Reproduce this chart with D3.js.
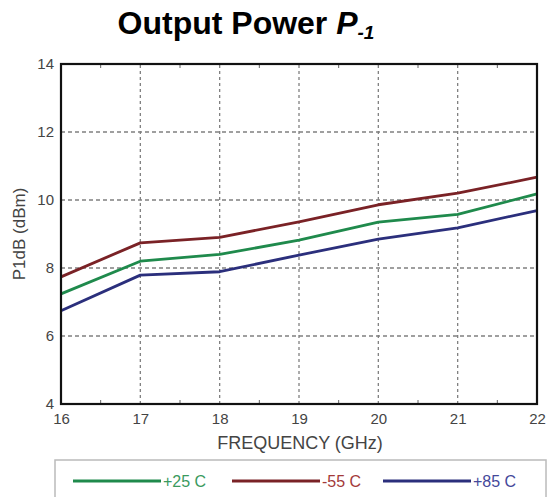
<!DOCTYPE html>
<html>
<head>
<meta charset="utf-8">
<script src="https://cdn.jsdelivr.net/npm/d3@7"></script>
<style>
  body { margin: 0; background: #fff; }
  svg { display: block; font-family: "Liberation Sans", Arial, sans-serif; }
</style>
</head>
<body>
<div id="chart"></div>
<script>
const freq = [16, 17, 18, 19, 20, 21, 22];
const p25 = [7.24, 8.2, 8.4, 8.82, 9.35, 9.58, 10.18];
const m55 = [7.74, 8.74, 8.9, 9.36, 9.86, 10.2, 10.67];
const p85 = [6.74, 7.79, 7.89, 8.38, 8.85, 9.18, 9.69];
const yTicks = [4, 6, 8, 10, 12, 14];
const seriesNames = ["+25 C", "-55 C", "+85 C"];
const seriesColors = ["#1f8a4c", "#7a2226", "#2b2f7c"];
const textColors = ["#3a9a5e", "#a33a3a", "#44489a"];

const series = [p25, m55, p85].map((vals, i) => ({
  name: seriesNames[i],
  color: seriesColors[i],
  values: vals.map((v, j) => ({f: freq[j], v}))
}));

const width = 548, height = 497;
const margin = {top: 64, right: 11, bottom: 93, left: 61};

const x = d3.scaleLinear([16, 22], [margin.left, width - margin.right]);
const y = d3.scaleLinear([4, 14], [height - margin.bottom, margin.top]);

const svg = d3.select("#chart").append("svg")
  .attr("width", width)
  .attr("height", height)
  .attr("viewBox", [0, 0, width, height]);

// title
const title = svg.append("text")
  .attr("x", 246)
  .attr("y", 34)
  .attr("text-anchor", "middle")
  .attr("font-weight", "bold")
  .attr("font-size", 32)
  .attr("fill", "#000");
title.append("tspan").text("Output Power ");
title.append("tspan").attr("font-style", "italic").text("P");
title.append("tspan").attr("font-style", "italic").attr("font-size", 19).attr("dy", 5).text("-1");

// grid
svg.append("g")
  .selectAll("line")
  .data(freq.slice(1, -1))
  .join("line")
  .attr("x1", d => x(d)).attr("x2", d => x(d))
  .attr("y1", y(4)).attr("y2", y(14))
  .attr("stroke", "#808080")
  .attr("stroke-width", 1.3)
  .attr("stroke-dasharray", "3,3");

svg.append("g")
  .selectAll("line")
  .data(yTicks.slice(1, -1))
  .join("line")
  .attr("x1", x(16)).attr("x2", x(22))
  .attr("y1", d => y(d)).attr("y2", d => y(d))
  .attr("stroke", "#808080")
  .attr("stroke-width", 1.3)
  .attr("stroke-dasharray", "4,3");

// minor ticks on the frame
const minor = d3.range(16.5, 22, 1);
svg.append("g")
  .selectAll("line")
  .data(minor.flatMap(d => [[d, 14, 4], [d, 4, -4]]))
  .join("line")
  .attr("x1", d => x(d[0])).attr("x2", d => x(d[0]))
  .attr("y1", d => y(d[1])).attr("y2", d => y(d[1]) + d[2])
  .attr("stroke", "#666")
  .attr("stroke-width", 1);

// lines
const line = d3.line().x(d => x(d.f)).y(d => y(d.v));
svg.append("g")
  .selectAll("path")
  .data(series)
  .join("path")
  .attr("fill", "none")
  .attr("stroke", d => d.color)
  .attr("stroke-width", 2.8)
  .attr("stroke-linejoin", "round")
  .attr("d", d => line(d.values));

// frame
svg.append("rect")
  .attr("x", x(16)).attr("y", y(14))
  .attr("width", x(22) - x(16)).attr("height", y(4) - y(14))
  .attr("fill", "none")
  .attr("stroke", "#111")
  .attr("stroke-width", 2.2);

// x tick labels
svg.append("g")
  .attr("transform", `translate(0,${y(4)})`)
  .call(d3.axisBottom(x).tickValues(freq).tickFormat(d3.format("d")).tickSize(0).tickPadding(9))
  .call(g => g.select(".domain").remove())
  .call(g => g.selectAll("text")
    .attr("font-size", 15)
    .attr("font-family", "Liberation Sans, Arial, sans-serif")
    .attr("fill", "#444"));

// y tick labels
svg.append("g")
  .attr("transform", `translate(${x(16)},0)`)
  .call(d3.axisLeft(y).tickValues(yTicks).tickFormat(d3.format("d")).tickSize(0).tickPadding(7))
  .call(g => g.select(".domain").remove())
  .call(g => g.selectAll("text")
    .attr("font-size", 15)
    .attr("font-family", "Liberation Sans, Arial, sans-serif")
    .attr("fill", "#444"));

// axis titles
svg.append("text")
  .attr("x", 300)
  .attr("y", 449)
  .attr("text-anchor", "middle")
  .attr("font-size", 18)
  .attr("fill", "#444")
  .text("FREQUENCY (GHz)");

svg.append("text")
  .attr("transform", `translate(25,${(y(4) + y(14)) / 2}) rotate(-90)`)
  .attr("text-anchor", "middle")
  .attr("font-size", 17)
  .attr("fill", "#444")
  .text("P1dB (dBm)");

// legend
svg.append("rect")
  .attr("x", 55).attr("y", 460)
  .attr("width", 491).attr("height", 50)
  .attr("fill", "#fff")
  .attr("stroke", "#bbb")
  .attr("stroke-width", 1.5);

const legendX = [73, 232, 383];
const lg = svg.append("g")
  .selectAll("g")
  .data(series)
  .join("g")
  .attr("transform", (d, i) => `translate(${legendX[i]},481)`);
lg.append("line")
  .attr("x1", 0).attr("x2", 88)
  .attr("stroke", d => d.color)
  .attr("stroke-width", 2.8);
lg.append("text")
  .attr("x", 90)
  .attr("y", 6)
  .attr("font-size", 16)
  .attr("fill", (d, i) => textColors[i])
  .text(d => d.name);
</script>
</body>
</html>
